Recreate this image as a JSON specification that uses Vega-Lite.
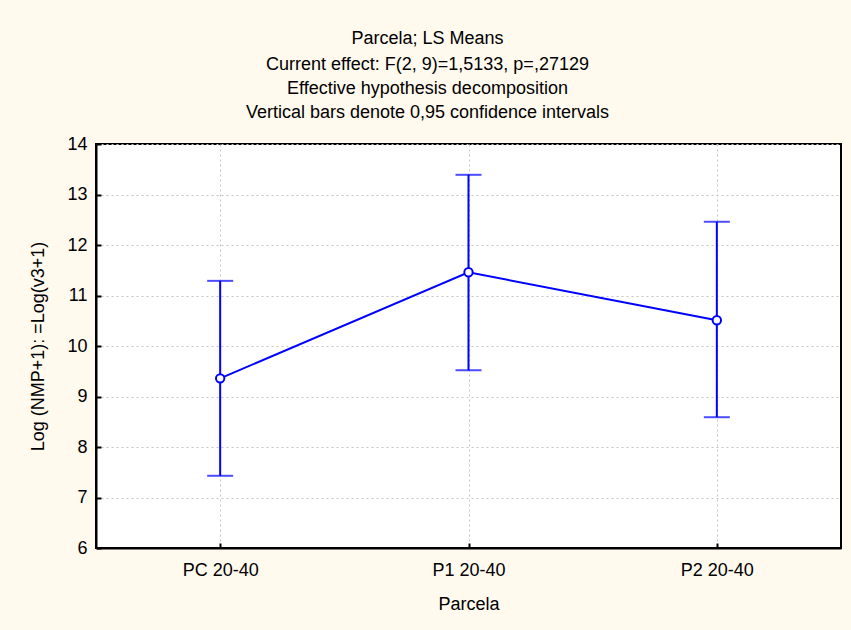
{
  "$schema": "https://vega.github.io/schema/vega-lite/v6.json",
  "autosize": "none",
  "width": 745,
  "height": 404,
  "padding": {"left": 96, "top": 144, "right": 10, "bottom": 82},
  "background": "#FFF9EE",
  "config": {
    "font": "Liberation Sans",
    "view": {"fill": "white", "stroke": "black", "strokeWidth": 2},
    "axis": {
      "labelFont": "Liberation Sans",
      "titleFont": "Liberation Sans",
      "labelColor": "black",
      "titleColor": "black",
      "labelFontSize": 18,
      "titleFontSize": 18,
      "titleFontWeight": "normal",
      "labelOverlap": false,
      "domainColor": "black",
      "domainWidth": 2,
      "tickColor": "black",
      "tickWidth": 2,
      "tickSize": -5,
      "gridColor": "#c4c4c4",
      "gridDash": [2, 3],
      "gridWidth": 1
    }
  },
  "title": {
    "text": "Parcela; LS Means",
    "subtitle": [
      "Current effect: F(2, 9)=1,5133, p=,27129",
      "Effective hypothesis decomposition",
      "Vertical bars denote 0,95 confidence intervals"
    ],
    "font": "Liberation Sans",
    "subtitleFont": "Liberation Sans",
    "fontSize": 18,
    "subtitleFontSize": 18,
    "fontWeight": "normal",
    "color": "black",
    "subtitleColor": "black",
    "subtitleLineHeight": 24,
    "subtitlePadding": 8,
    "anchor": "middle",
    "dx": -41,
    "offset": 13
  },
  "data": {
    "values": [
      {"Parcela": "PC 20-40", "mean": 9.36, "lower": 7.43, "upper": 11.29},
      {"Parcela": "P1 20-40", "mean": 11.46, "lower": 9.52, "upper": 13.39},
      {"Parcela": "P2 20-40", "mean": 10.51, "lower": 8.59, "upper": 12.46}
    ]
  },
  "encoding": {
    "x": {
      "field": "Parcela",
      "type": "nominal",
      "sort": null,
      "scale": {"type": "point", "padding": 0.5},
      "axis": {"title": "Parcela", "labelAngle": 0, "labelPadding": 18, "titlePadding": 16, "grid": true}
    }
  },
  "layer": [
    {
      "mark": {"type": "rule", "color": "#0000FF", "strokeWidth": 2},
      "encoding": {
        "y": {
          "field": "lower",
          "type": "quantitative",
          "scale": {"domain": [6, 14], "nice": false, "zero": false},
          "axis": {"title": "Log (NMP+1): =Log(v3+1)", "values": [6, 7, 8, 9, 10, 11, 12, 13, 14], "labelPadding": 14, "titlePadding": 19, "grid": true}
        },
        "y2": {"field": "upper"}
      }
    },
    {
      "mark": {"type": "tick", "color": "#0000FF", "size": 26, "thickness": 2},
      "encoding": {"y": {"field": "lower", "type": "quantitative"}}
    },
    {
      "mark": {"type": "tick", "color": "#0000FF", "size": 26, "thickness": 2},
      "encoding": {"y": {"field": "upper", "type": "quantitative"}}
    },
    {
      "mark": {"type": "line", "color": "#0000FF", "strokeWidth": 2},
      "encoding": {"y": {"field": "mean", "type": "quantitative"}}
    },
    {
      "mark": {"type": "point", "shape": "circle", "filled": false, "fill": "white", "fillOpacity": 1, "stroke": "#0000FF", "strokeWidth": 2, "size": 70, "opacity": 1},
      "encoding": {"y": {"field": "mean", "type": "quantitative"}}
    }
  ]
}
